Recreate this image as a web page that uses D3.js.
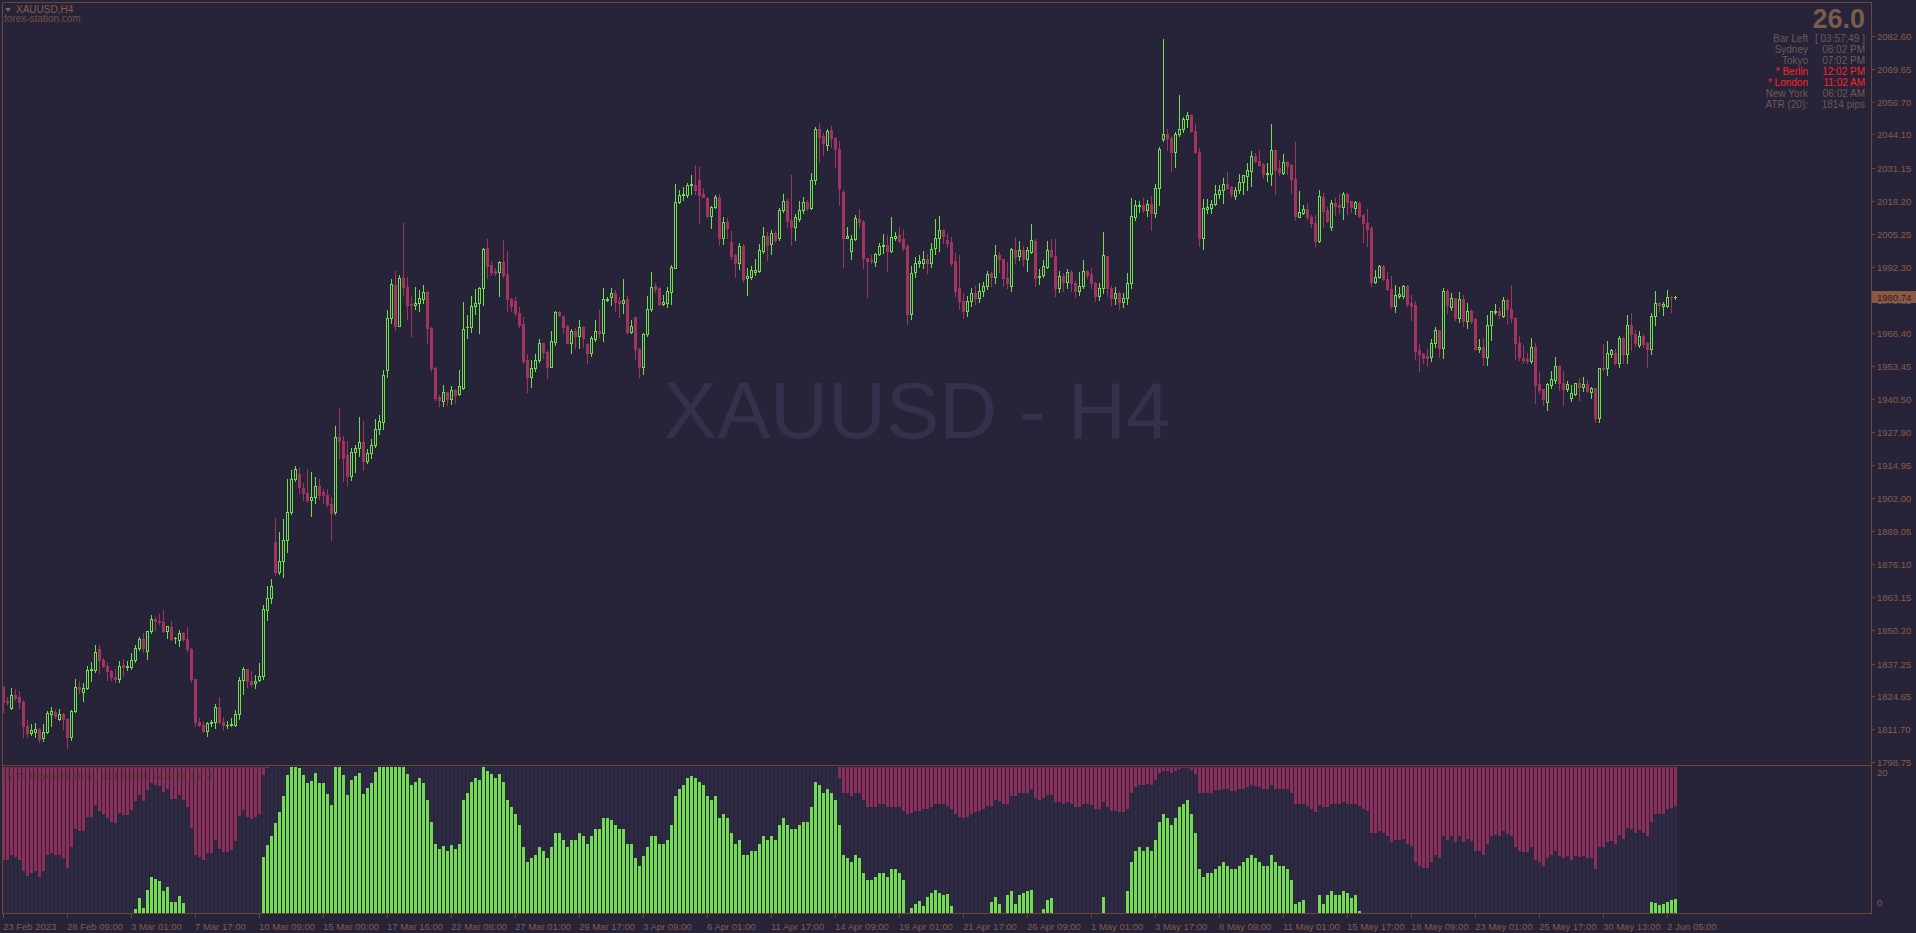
<!DOCTYPE html>
<html>
<head>
<meta charset="utf-8">
<script src="https://cdn.jsdelivr.net/npm/d3@7"></script>
<style>
html, body { margin: 0; padding: 0; background: #272338; overflow: hidden; }
svg { display: block; }
text { font-family: "Liberation Sans", Arial, sans-serif; }
</style>
</head>
<body>
<div id="chart"></div>
<script>
// XAUUSD H4 candles, one entry per bar (bar 0 = 23 Feb 2023)
const opens = [
1828.2,1822.7,1819.7,1824.9,1824.0,1822.1,1812.8,1810.1,1810.3,1811.7,
1808.0,1810.3,1817.6,1818.3,1815.5,1817.6,1815.5,1808.7,1818.6,1828.2,
1826.2,1827.6,1834.6,1834.8,1843.0,1838.6,1836.4,1834.3,1832.0,1831.3,
1836.7,1835.7,1835.7,1838.6,1843.2,1846.8,1842.1,1849.8,1854.5,1854.0,
1853.4,1849.8,1851.5,1847.1,1846.4,1849.1,1846.8,1843.0,1831.3,1814.4,
1813.2,1810.7,1814.0,1814.2,1820.3,1814.4,1813.2,1813.1,1813.1,1817.6,
1831.0,1835.0,1830.6,1829.5,1830.9,1832.5,1858.1,1862.7,1884.7,1873.1,
1877.5,1885.7,1896.5,1909.5,1911.5,1905.8,1903.9,1901.1,1902.2,1906.6,
1904.4,1903.3,1899.7,1896.4,1925.9,1924.1,1918.7,1910.7,1919.8,1921.7,
1923.9,1916.3,1919.5,1922.5,1929.1,1931.8,1952.0,1972.5,1985.3,1969.4,
1988.0,1984.6,1977.9,1977.3,1978.4,1979.8,1982.4,1968.6,1952.7,1941.6,
1940.0,1943.5,1940.5,1944.2,1942.6,1944.9,1968.8,1968.8,1977.1,1978.1,
1984.0,1999.6,1993.1,1990.7,1990.2,1994.1,1989.6,1979.7,1979.0,1974.2,
1970.0,1955.9,1949.4,1952.9,1956.0,1962.5,1959.2,1953.3,1962.9,1974.8,
1973.1,1969.2,1962.7,1967.3,1965.3,1968.7,1962.2,1958.8,1964.1,1967.4,
1966.4,1979.4,1980.4,1982.0,1979.0,1978.1,1979.6,1967.0,1972.6,1960.1,
1953.3,1966.0,1975.8,1984.9,1983.9,1977.8,1978.4,1982.6,1992.0,2017.8,
2020.3,2020.6,2024.4,2024.4,2026.3,2020.8,2019.1,2012.2,2015.6,2019.1,
2003.5,2009.8,2001.9,1997.0,1994.0,2000.6,1987.9,1988.5,1990.3,1990.8,
1998.7,2004.4,2001.2,2005.7,2003.5,2014.6,2018.2,2010.7,2007.8,2011.0,
2014.6,2017.8,2015.2,2026.3,2046.1,2043.5,2040.0,2045.9,2042.6,2038.3,
2021.5,2003.5,1998.7,2003.1,2010.9,2010.0,1995.7,1995.0,1994.4,1997.4,
2000.3,2000.9,1998.7,2003.5,2004.8,2003.1,2000.5,1974.0,1990.5,1993.7,
1993.7,1995.5,1994.0,1999.6,2003.5,2006.8,2002.8,2002.0,1994.6,1984.0,
1979.0,1975.0,1979.0,1982.0,1980.0,1983.0,1985.0,1989.8,1988.5,1997.0,
1995.3,1987.9,1985.0,1998.9,1996.6,1998.9,1995.3,1998.3,2002.4,1988.4,
1989.2,1992.4,1998.9,1996.6,1984.0,1988.9,1986.5,1990.3,1986.2,1983.0,
1985.0,1990.7,1989.4,1986.0,1981.0,1984.0,1996.4,1984.0,1980.0,1982.0,
1978.5,1980.0,1986.0,2012.0,2016.1,2016.5,2014.6,2016.9,2013.3,2023.0,
2042.3,2044.1,2042.6,2037.4,2044.1,2046.1,2050.0,2051.7,2045.6,2037.4,
2003.5,2014.8,2015.2,2016.9,2020.7,2022.4,2024.7,2023.4,2020.0,2022.4,
2025.6,2027.9,2029.9,2035.7,2033.7,2032.5,2028.5,2028.6,2038.0,2030.8,
2028.9,2033.2,2032.2,2026.6,2012.0,2013.5,2014.8,2011.7,2009.4,2002.6,
2019.5,2014.6,2008.1,2017.4,2016.5,2015.9,2020.8,2018.1,2015.2,2017.2,
2012.6,2009.4,2007.7,1986.6,1988.2,1992.7,1987.6,1983.7,1977.2,1981.0,
1981.1,1984.9,1978.1,1977.4,1959.8,1958.3,1957.5,1957.0,1962.4,1967.7,
1960.8,1982.9,1976.8,1980.0,1972.5,1979.8,1971.3,1975.1,1971.8,1960.1,
1961.1,1957.0,1969.6,1974.6,1975.1,1973.3,1979.4,1975.7,1972.2,1962.4,
1956.6,1956.2,1955.7,1960.9,1946.5,1944.5,1939.6,1946.2,1948.1,1953.6,
1946.8,1944.5,1940.9,1942.6,1946.8,1945.5,1946.4,1943.5,1944.9,1933.1,
1952.7,1952.7,1958.3,1958.5,1954.6,1964.4,1958.3,1969.6,1966.1,1961.8,
1965.4,1962.4,1960.1,1973.1,1978.1,1977.2,1977.2,1980.7,1980.5
];
const highs = [
1828.5,1824.0,1827.6,1827.2,1826.5,1823.1,1815.2,1813.5,1814.0,1812.1,
1813.5,1818.5,1820.4,1819.0,1819.4,1817.8,1815.8,1819.0,1831.2,1830.6,
1829.5,1836.4,1837.8,1844.3,1844.3,1839.5,1838.0,1834.7,1835.0,1838.1,
1838.9,1838.1,1841.3,1844.3,1847.8,1849.1,1850.1,1856.3,1855.3,1856.7,
1858.3,1852.0,1853.9,1847.8,1850.5,1849.5,1851.5,1843.3,1831.3,1815.8,
1814.2,1814.2,1815.2,1821.3,1824.0,1816.2,1814.9,1815.8,1819.0,1832.0,
1835.7,1835.0,1834.5,1832.7,1837.5,1860.1,1867.7,1870.4,1894.0,1888.5,
1893.7,1909.5,1912.9,1914.5,1913.6,1907.7,1913.2,1912.2,1910.2,1909.5,
1905.4,1905.4,1902.2,1930.0,1937.3,1926.3,1924.1,1921.4,1922.5,1933.5,
1932.1,1921.1,1925.2,1932.8,1934.6,1952.0,1975.3,1987.5,1990.8,1989.0,
2009.4,1988.3,1980.9,1984.5,1983.1,1985.3,1983.0,1969.0,1953.3,1942.2,
1946.2,1943.6,1945.8,1944.5,1952.0,1978.7,1973.5,1981.0,1983.6,1984.6,
1999.9,2003.1,1994.8,1991.8,1994.8,2002.9,1998.5,1980.0,1980.4,1976.8,
1972.6,1958.3,1956.0,1958.3,1964.0,1962.5,1959.9,1967.3,1975.2,1975.2,
1973.1,1969.6,1967.9,1968.6,1971.6,1969.2,1962.7,1965.3,1971.6,1975.5,
1983.9,1980.7,1983.9,1983.3,1980.7,1987.6,1980.9,1971.6,1972.9,1960.5,
1966.4,1981.0,1990.2,1985.9,1984.3,1981.4,1984.3,1993.1,2024.7,2022.4,
2023.4,2025.0,2028.3,2032.2,2031.3,2023.0,2019.5,2016.1,2020.4,2020.8,
2011.7,2011.3,2006.5,1997.4,2001.5,2001.3,1991.8,1992.7,1995.3,2001.3,
2007.8,2006.1,2006.8,2006.4,2015.2,2020.8,2018.7,2028.3,2013.0,2018.2,
2019.5,2018.5,2029.2,2047.2,2048.5,2044.5,2046.1,2047.4,2043.0,2041.7,
2022.4,2007.8,2004.8,2012.6,2014.8,2010.7,1995.7,1997.0,1997.7,2001.8,
2005.2,2004.8,2012.0,2006.1,2008.1,2006.8,2001.3,1992.7,1996.3,1997.0,
1998.6,1997.4,2001.6,2010.9,2012.2,2007.0,2005.4,2003.9,1997.6,1997.0,
1982.0,1981.0,1984.0,1985.0,1986.0,1986.5,1990.8,1990.4,2000.9,1998.3,
1995.3,1994.4,1999.6,2004.0,2002.6,2000.5,2000.0,2009.1,2003.1,1991.4,
1995.0,2002.6,2003.2,2003.1,1990.8,1990.0,1991.4,1991.1,1986.8,1990.4,
1995.0,1991.1,1991.8,1986.5,1986.0,2006.1,1996.4,1985.0,1984.5,1983.0,
1982.0,1989.8,2019.1,2018.5,2018.2,2019.1,2018.5,2020.0,2024.7,2039.3,
2081.4,2046.2,2043.5,2045.2,2059.5,2050.8,2053.0,2052.1,2048.2,2039.0,
2018.7,2018.7,2018.5,2024.3,2024.3,2026.9,2029.6,2023.9,2023.7,2028.6,
2028.3,2032.8,2037.8,2037.0,2038.0,2033.1,2032.8,2048.2,2038.0,2034.1,
2036.5,2033.9,2032.6,2041.2,2022.0,2016.5,2017.4,2012.6,2012.6,2022.4,
2021.4,2015.6,2018.5,2019.1,2020.8,2021.7,2021.1,2018.2,2018.1,2018.1,
2013.0,2014.8,2008.3,1991.1,1993.1,1993.1,1990.5,1988.8,1985.2,1984.6,
1985.4,1985.4,1981.3,1979.0,1962.2,1958.8,1960.1,1964.0,1968.7,1967.7,
1983.9,1983.6,1982.0,1980.0,1982.4,1981.3,1978.3,1975.7,1972.2,1964.1,
1964.4,1973.5,1975.1,1977.8,1976.8,1980.7,1979.7,1985.2,1972.9,1965.3,
1961.8,1958.8,1964.4,1962.7,1951.4,1944.5,1946.8,1951.8,1957.0,1954.0,
1951.8,1947.9,1946.2,1947.1,1948.8,1949.4,1948.1,1945.3,1944.9,1952.7,
1962.2,1963.4,1960.1,1960.1,1965.3,1965.0,1973.5,1974.4,1967.7,1967.4,
1966.1,1963.1,1974.2,1982.9,1978.7,1978.5,1983.3,1981.1,1981.1
];
const lows = [
1818.3,1821.5,1819.5,1823.0,1819.7,1808.7,1808.7,1809.4,1808.4,1806.5,
1806.9,1810.1,1812.8,1815.8,1815.2,1811.7,1804.3,1807.3,1818.3,1825.8,
1822.7,1827.2,1830.4,1834.1,1833.4,1835.8,1830.9,1830.9,1830.0,1830.0,
1832.3,1834.8,1835.0,1837.8,1842.7,1841.6,1838.9,1849.1,1850.5,1852.6,
1849.5,1847.1,1846.3,1845.4,1844.0,1846.0,1842.3,1830.0,1812.8,1812.8,
1810.3,1809.0,1812.8,1812.1,1813.9,1811.4,1812.1,1812.8,1812.8,1815.5,
1825.4,1827.9,1828.6,1827.6,1830.6,1831.3,1854.2,1860.8,1872.0,1872.1,
1871.1,1880.7,1895.8,1908.8,1904.0,1901.2,1900.3,1895.1,1899.9,1901.7,
1899.9,1898.9,1885.5,1895.8,1917.7,1908.8,1907.1,1909.1,1912.2,1918.4,
1912.9,1915.6,1917.7,1921.8,1926.9,1929.1,1949.2,1970.2,1967.8,1969.1,
1981.5,1972.1,1965.3,1976.0,1974.9,1978.1,1962.7,1951.8,1940.3,1938.0,
1938.0,1938.5,1938.8,1939.0,1942.2,1944.5,1964.4,1967.0,1974.0,1966.4,
1977.4,1987.9,1989.2,1989.2,1981.0,1988.5,1975.2,1975.2,1973.5,1969.0,
1954.6,1943.5,1945.5,1951.8,1955.3,1956.6,1948.8,1953.0,1961.8,1973.1,
1966.6,1962.5,1958.5,1960.5,1960.5,1961.0,1954.9,1957.5,1963.5,1964.8,
1963.5,1979.1,1977.4,1975.2,1972.9,1974.4,1966.6,1966.6,1956.2,1949.4,
1950.5,1965.3,1975.2,1982.7,1977.4,1977.4,1976.5,1977.8,1991.8,2017.4,
2018.5,2019.8,2020.8,2020.8,2009.6,2019.5,2011.7,2007.7,2015.2,2000.9,
2001.3,2003.5,1995.3,1988.5,1991.4,1986.6,1981.4,1987.5,1989.2,1990.5,
1997.9,1995.0,1997.4,2002.2,2002.9,2013.9,2007.8,2000.9,2002.9,2010.4,
2013.5,2014.6,2014.8,2024.7,2033.5,2036.1,2038.0,2039.3,2031.5,2016.5,
1992.2,2003.5,1995.3,2002.9,2008.0,1991.8,1980.7,1993.7,1992.7,1997.0,
1997.9,1990.9,1998.3,2002.9,2002.2,1998.9,1970.0,1972.0,1988.3,1992.4,
1991.8,1990.1,1992.1,1997.4,1998.7,2001.8,2000.2,1993.1,1981.0,1976.0,
1972.5,1973.0,1977.0,1978.0,1978.5,1981.0,1983.5,1985.0,1986.0,1990.4,
1985.0,1984.0,1983.0,1993.7,1995.0,1992.7,1990.8,1997.6,1985.0,1985.5,
1988.5,1991.8,1996.0,1981.0,1982.5,1983.0,1984.0,1983.0,1980.5,1981.5,
1984.0,1987.8,1984.0,1979.0,1979.5,1982.0,1981.0,1977.5,1978.0,1976.0,
1976.5,1978.0,1984.0,2010.7,2013.9,2013.9,2012.2,2006.8,2011.7,2016.5,
2041.7,2038.0,2030.0,2031.5,2043.5,2045.2,2046.9,2045.2,2037.0,2000.5,
1999.2,2013.3,2013.5,2016.5,2019.1,2017.4,2022.6,2019.5,2018.7,2021.4,
2020.8,2022.4,2024.0,2033.5,2031.8,2027.0,2026.0,2024.3,2020.8,2028.3,
2028.6,2028.6,2021.4,2010.6,2011.7,2013.0,2010.9,2007.8,2000.5,2002.2,
2008.1,2010.0,2006.8,2012.6,2013.5,2010.9,2013.0,2013.9,2013.0,2012.0,
2002.2,2000.5,1984.9,1986.2,1987.9,1987.2,1983.3,1976.1,1974.8,1980.0,
1980.0,1977.0,1971.6,1956.3,1951.8,1954.9,1953.6,1955.7,1961.1,1957.2,
1956.9,1974.2,1975.5,1971.6,1970.9,1969.4,1968.6,1970.5,1959.8,1959.2,
1954.0,1954.0,1963.8,1973.9,1972.2,1972.9,1970.5,1970.9,1956.2,1955.9,
1954.6,1954.6,1954.6,1939.0,1943.2,1938.3,1936.4,1944.9,1946.8,1944.2,
1938.3,1943.9,1940.0,1942.2,1940.3,1943.9,1943.5,1940.9,1931.8,1931.8,
1952.0,1950.1,1957.2,1954.4,1953.3,1954.6,1954.6,1959.8,1961.4,1961.1,
1961.1,1953.1,1958.3,1969.6,1975.2,1973.5,1976.5,1974.8,1979.8
];
const closes = [
1822.4,1822.1,1824.9,1823.8,1822.1,1812.8,1810.1,1811.2,1811.5,1807.9,
1810.3,1817.9,1818.6,1816.9,1817.6,1815.5,1808.7,1818.6,1828.2,1827.2,
1827.6,1834.8,1835.0,1841.9,1838.6,1836.4,1834.3,1832.0,1831.3,1836.4,
1835.7,1836.1,1838.6,1843.2,1846.8,1843.2,1849.8,1854.6,1854.0,1853.3,
1849.8,1851.9,1846.8,1847.2,1849.1,1846.8,1843.0,1831.3,1814.2,1813.2,
1810.7,1813.9,1814.4,1820.3,1814.2,1813.2,1813.3,1813.5,1817.6,1831.0,
1835.1,1830.6,1829.3,1830.6,1832.5,1858.5,1862.7,1867.5,1873.1,1877.5,
1885.7,1896.5,1909.5,1913.4,1906.1,1903.9,1901.1,1902.2,1906.6,1903.3,
1903.3,1899.7,1896.0,1925.9,1924.1,1917.7,1910.7,1919.8,1921.4,1923.7,
1916.3,1919.5,1922.5,1929.1,1932.1,1950.2,1972.5,1985.8,1969.4,1988.0,
1984.6,1977.6,1977.3,1978.4,1980.1,1982.4,1968.6,1952.7,1941.2,1940.3,
1943.5,1940.5,1944.2,1942.3,1945.8,1967.9,1969.0,1977.1,1978.1,1984.2,
1999.3,1992.8,1990.5,1989.8,1994.1,1989.2,1979.7,1977.2,1974.2,1969.6,
1955.7,1949.2,1952.9,1956.0,1962.5,1959.2,1953.3,1963.4,1974.8,1973.5,
1969.0,1962.7,1967.3,1965.3,1968.7,1964.4,1958.8,1964.7,1967.4,1966.4,
1979.7,1979.8,1982.0,1978.7,1978.1,1979.4,1967.0,1969.2,1960.1,1953.3,
1966.0,1975.8,1984.6,1983.7,1977.8,1978.6,1982.9,1992.4,2017.8,2020.4,
2020.8,2024.4,2024.9,2022.4,2020.4,2019.8,2012.2,2015.6,2019.8,2003.5,
2009.8,2007.4,1996.7,1994.0,2000.6,1987.6,1988.8,1991.1,1991.0,1998.9,
2004.4,2000.9,2005.7,2002.9,2014.6,2018.2,2010.4,2007.8,2011.7,2014.6,
2017.8,2015.2,2026.3,2046.1,2043.2,2040.6,2045.6,2042.6,2038.3,2023.1,
2003.5,2004.4,2003.1,2011.3,2010.0,1995.7,1994.8,1994.8,1997.4,2000.6,
2000.9,1998.7,2003.9,2004.4,2002.6,1999.9,1974.0,1990.0,1993.7,1994.8,
1995.3,1994.0,1999.2,2003.5,2006.8,2004.4,2001.8,1994.0,1983.0,1979.0,
1975.0,1979.0,1982.0,1980.0,1983.0,1985.0,1989.4,1988.2,1997.0,1995.3,
1987.9,1986.0,1999.2,1996.3,1998.9,1995.3,1998.9,2002.8,1987.9,1988.9,
1992.7,1998.9,1996.6,1984.0,1988.9,1986.5,1990.3,1986.2,1983.0,1985.0,
1990.7,1989.2,1986.0,1981.0,1984.0,1996.8,1984.0,1980.0,1982.0,1978.5,
1980.0,1986.0,2012.2,2016.5,2016.5,2014.6,2016.9,2013.5,2023.2,2038.6,
2044.1,2042.6,2037.4,2044.2,2046.1,2050.0,2051.7,2045.6,2037.4,2003.5,
2015.2,2015.6,2016.9,2020.8,2022.4,2024.7,2023.0,2020.8,2022.4,2025.6,
2028.3,2030.2,2035.7,2033.9,2032.2,2028.6,2028.9,2038.0,2030.2,2029.6,
2033.2,2031.8,2026.6,2012.2,2013.9,2014.8,2011.7,2009.4,2002.6,2020.0,
2014.3,2010.4,2017.2,2016.1,2015.9,2020.8,2017.8,2015.6,2017.6,2012.4,
2009.4,2007.3,1986.6,1988.5,1992.7,1987.6,1983.7,1977.2,1981.4,1981.7,
1984.9,1977.8,1977.2,1959.6,1958.3,1956.9,1956.9,1962.7,1967.7,1960.8,
1982.9,1977.4,1980.0,1972.2,1979.8,1971.3,1975.1,1971.3,1960.1,1961.1,
1957.0,1969.6,1975.1,1975.1,1973.5,1979.4,1975.7,1972.2,1962.4,1957.2,
1955.9,1955.5,1960.9,1946.2,1944.2,1940.6,1946.4,1948.4,1953.6,1946.8,
1944.5,1946.5,1942.9,1946.8,1945.5,1946.4,1943.9,1944.9,1933.1,1952.7,
1952.3,1958.5,1959.8,1954.6,1964.4,1958.3,1969.6,1966.1,1962.7,1965.4,
1962.2,1960.1,1973.1,1978.1,1977.4,1977.8,1980.4,1980.4,1980.74
];

// sub-window histogram (0..20): green rises from the bottom, red hangs from the top
const bullPower = [
0,0,0,0,0,0,0,0,0,0, 0,0,0,0,0,0,0,0,0,0,
0,0,0,0,0,0,0,0,0,0, 0,0,0,0.55,2.1,0.7,3.2,5.0,4.6,4.4,
3.0,3.6,1.5,1.5,2.3,1.4,0,0,0,0, 0,0,0,0,0,0,0,0,0,0,
0,0,0,0,0,7.7,9.3,10.6,12.3,13.8, 16.0,18.9,20,20,19.8,18.9,17.8,18.1,19.2,17.8,
17.8,16.3,14.8,20,20,18.9,16.2,18.2,18.7,19.2, 16.3,17.1,17.8,19.3,20,20,20,20,20,20,
20,19,17.5,18,18.5,17.8,15.5,12.5,9.5,8.8, 9.2,8.5,9.3,8.7,9.5,15.5,16.5,18,18.5,18.2,
20,19.5,19,18.5,19,18,15.5,14.5,13.5,12, 9,7,7.5,8,9,8.5,7.5,9,11,11,
10,9,10,10,11,10.5,9.5,10.5,11.5,11.5, 13,13,12.8,12,11.5,11.5,9.5,9.5,7.5,6.5,
7.8,9,10.5,10.5,9.5,9.5,10,12,16,17, 17.5,18.5,18.8,18.5,18,17.5,16,15.5,16,13,
13.5,13,11,9.5,10,8,8,8.5,8.5,9.5, 10.5,10,10.5,10,12,13,12,11.5,11.5,12,
12.5,12.5,14.5,18,17.5,16.5,17,16.5,15.5,12, 8,7.5,7,8,7.5,5.5,4.5,4.5,5,5.5,
5.5,5,6,6,5.5,4.5,0,0.7,1.2,1.6, 1.0,2.2,2.8,3.2,2.8,2.4,2.6,1.0,0,0,
0,0,0,0,0,0,0,1.5,2.2,1.2, 0,2.5,3,1.2,2.5,2.8,3,3.2,0,0,
0.6,1.8,2.0,0,0,0,0,0,0,0, 0,0,0,0,0,2.2,0,0,0,0,
0,3,7,8.5,9,8.5,9,8.5,10,12.5, 13.5,13,12,13,14.5,15,15.5,13.5,11,6,
5,5.5,5.5,6,6.5,7,6.5,6,6,6.5, 7,7.5,8,7.5,7,6.5,6.5,8,7,6.5,
6.5,6,4.5,1.2,1.5,1.8,0,0,0,2.5, 1.2,2.5,3,2.5,2.5,3,2.8,2,2.5,0.3,
0,0,0,0,0,0,0,0,0,0, 0,0,0,0,0,0,0,0,0,0,
0,0,0,0,0,0,0,0,0,0, 0,0,0,0,0,0,0,0,0,0,
0,0,0,0,0,0,0,0,0,0, 0,0,0,0,0,0,0,0,0,0,
0,0,0,0,0,0,0,0,0,0, 0,0,1.5,1.4,1.1,1.2,1.5,1.8,1.9
];
const bearPower = [
12.8,12.8,12.1,12.3,12.7,14.3,14.9,14.5,14.3,15.0, 14.2,12.1,11.8,12.1,12.0,12.4,13.8,11.0,8.5,8.8,
8.7,6.9,6.9,5.2,6.0,6.4,7.0,7.6,7.7,6.3, 6.6,6.6,5.9,4.7,3.8,4.7,3.1,2.2,2.4,2.6,
3.4,3.0,4.4,4.4,3.8,4.5,5.5,8.4,12.0,12.3, 12.7,11.8,11.8,10.0,11.3,11.6,11.6,11.4,10.2,6.7,
5.9,6.9,7.1,6.9,6.4,1.1,0.2,0,0,0, 0,0,0,0,0,0,0,0,0,0,
0,0,0,0,0,0,0,0,0,0, 0,0,0,0,0,0,0,0,0,0,
0,0,0,0,0,0,0,0,0,0, 0,0,0,0,0,0,0,0,0,0,
0,0,0,0,0,0,0,0,0,0, 0,0,0,0,0,0,0,0,0,0,
0,0,0,0,0,0,0,0,0,0, 0,0,0,0,0,0,0,0,0,0,
0,0,0,0,0,0,0,0,0,0, 0,0,0,0,0,0,0,0,0,0,
0,0,0,0,0,0,0,0,0,0, 0,0,0,0,0,0,0,0,0,0,
0,0,0,0,0,0,0,0,0,1.5, 3.5,3.5,4,3.5,3.5,4.5,5.5,5.5,5.5,5,
5,5.5,5.5,5.5,5.5,6,6.5,6.3,6,6, 5.8,5.8,5.5,5,5,5,5.3,5.8,6.5,6.8,
7,6.8,6.5,6.2,6,5.8,5.3,5.3,4.5,4.6, 5,5,4,4,3.6,3.5,3.5,3,4.3,4.5,
4.2,3.8,3.8,4.8,4.8,5,4.8,5,5.5,5.5, 5,5,5.2,5.8,5.8,4.8,5.5,6,6,6.2,
6.2,5.8,3.5,2.8,2.5,2.5,2.3,2.5,1.8,0.8, 0.5,0.5,0.8,0.6,0.3,0.2,0.2,0.4,1,3.5,
3.5,3.5,3.5,3.2,3.2,3,3,3.3,3.3,3, 3,2.8,2.5,2.6,2.8,3,3,2.5,3,3,
3,3,3.5,5,5,5,5.3,5.8,6.2,5.2, 5.5,5.5,5,5,5,4.8,5,5,5,5.3,
5.8,6,9,9,8.8,9,9.5,10.3,10,10, 9.8,10.5,10.8,13,13.5,13.8,13.8,13,12,12.5,
9.5,10,9.5,10.3,9.5,10.3,9.8,10.2,11.5,11.5, 12,10.5,9.5,9.3,9.5,8.8,9.2,9.5,11,11.5,
11.6,11.6,11,12.8,13,13.5,12.5,12,11.5,12.2, 12.5,12.2,12.8,12.2,12.3,12.2,12.5,12.4,14,11,
11,10.3,10.2,10.5,9.3,9.8,8.3,8.5,9,8.6, 9,9.4,7.5,6.5,6.5,6.4,5.8,5.6,5.4
];

// one time label every 16 bars
const timeLabels = ["23 Feb 2023","28 Feb 09:00","3 Mar 01:00","7 Mar 17:00","10 Mar 09:00",
  "15 Mar 00:00","17 Mar 16:00","22 Mar 08:00","27 Mar 01:00","29 Mar 17:00","3 Apr 09:00",
  "6 Apr 01:00","11 Apr 17:00","14 Apr 09:00","19 Apr 01:00","21 Apr 17:00","26 Apr 09:00",
  "1 May 01:00","3 May 17:00","8 May 09:00","11 May 01:00","15 May 17:00","18 May 09:00",
  "23 May 01:00","25 May 17:00","30 May 13:00","2 Jun 05:00"];
const priceTicks = [2082.60,2069.65,2056.70,2044.10,2031.15,2018.20,2005.25,1992.30,1979.35,
  1966.40,1953.45,1940.50,1927.90,1914.95,1902.00,1889.05,1876.10,1863.15,1850.20,1837.25,
  1824.65,1811.70,1798.75];
const lastPrice = 1980.74;

const infoRows = [
  ["Bar Left", "[ 03:57:49 ]", false],
  ["Sydney", "08:02 PM", false],
  ["Tokyo", "07:02 PM", false],
  ["* Berlin", "12:02 PM", true],
  ["* London", "11:02 AM", true],
  ["New York", "06:02 AM", false],
  ["ATR (20):", "1814 pips", false]
];

const width = 1916, height = 933;
const bg = "#272338";
const bullColor = "#6ee04f";
const bearColor = "#a2355f";
const indBull = "#74dc52";
const indBear = "#8e2e5a";
const colFill = "#2f2a43";
const frameColor = "#6c4738";
const textColor = "#8a5c48";

const axisX = 1871;
const mainTop = 3, mainBottom = 765;
const indTop = 767, indBottom = 913;

const svg = d3.select("#chart")
    .append("svg")
    .attr("width", width)
    .attr("height", height);

svg.append("rect").attr("width", width).attr("height", height).attr("fill", bg);

const defs = svg.append("defs");
defs.append("clipPath").attr("id", "mainClip")
    .append("rect").attr("x", 3).attr("y", mainTop).attr("width", axisX - 3).attr("height", mainBottom - mainTop);

// scales
const x = d3.scaleLinear().domain([0, 418]).range([3, 1675]);
const y = d3.scaleLinear().domain([1798.75, 2082.60]).range([762, 36]);
const yInd = d3.scaleLinear().domain([0, 20]).range([indBottom, indTop]);

const candles = closes.map((c, i) => ({ i, o: opens[i], h: highs[i], l: lows[i], c }));
const isBull = d => d.c >= d.o;

// watermark
svg.append("text")
    .attr("x", 917)
    .attr("y", 438)
    .attr("text-anchor", "middle")
    .attr("font-size", "80px")
    .attr("fill", "#35304b")
    .text("XAUUSD - H4");

// candles
const main = svg.append("g")
    .attr("clip-path", "url(#mainClip)")
    .attr("shape-rendering", "crispEdges");

main.selectAll("rect.wick")
    .data(candles)
    .join("rect")
    .attr("class", "wick")
    .attr("x", d => Math.round(x(d.i)))
    .attr("y", d => Math.round(y(d.h)))
    .attr("width", 1)
    .attr("height", d => Math.max(1, Math.round(y(d.l)) - Math.round(y(d.h)) + 1))
    .attr("fill", d => isBull(d) ? bullColor : bearColor);

const bodyTop = d => Math.round(y(Math.max(d.o, d.c)));
const bodyBot = d => Math.round(y(Math.min(d.o, d.c)));

main.selectAll("rect.bear")
    .data(candles.filter(d => !isBull(d)))
    .join("rect")
    .attr("class", "bear")
    .attr("x", d => Math.round(x(d.i)) - 1)
    .attr("y", bodyTop)
    .attr("width", 3)
    .attr("height", d => Math.max(1, bodyBot(d) - bodyTop(d) + 1))
    .attr("fill", bearColor);

// hollow bull bodies
main.selectAll("rect.bull")
    .data(candles.filter(d => isBull(d) && bodyBot(d) - bodyTop(d) >= 2))
    .join("rect")
    .attr("class", "bull")
    .attr("x", d => Math.round(x(d.i)) - 0.5)
    .attr("y", d => bodyTop(d) + 0.5)
    .attr("width", 2)
    .attr("height", d => bodyBot(d) - bodyTop(d))
    .attr("fill", bg)
    .attr("stroke", bullColor)
    .attr("stroke-width", 1);

main.selectAll("rect.bullflat")
    .data(candles.filter(d => isBull(d) && bodyBot(d) - bodyTop(d) < 2))
    .join("rect")
    .attr("class", "bullflat")
    .attr("x", d => Math.round(x(d.i)) - 1)
    .attr("y", bodyTop)
    .attr("width", 3)
    .attr("height", d => bodyBot(d) - bodyTop(d) + 1)
    .attr("fill", bullColor);

// sub-window histogram
const ind = svg.append("g").attr("shape-rendering", "crispEdges");

ind.selectAll("rect.col")
    .data(candles)
    .join("rect")
    .attr("class", "col")
    .attr("x", d => Math.round(x(d.i)) - 1)
    .attr("y", indTop)
    .attr("width", 3)
    .attr("height", indBottom - indTop)
    .attr("fill", colFill);

ind.selectAll("rect.bearbar")
    .data(candles.filter(d => bearPower[d.i] > 0))
    .join("rect")
    .attr("class", "bearbar")
    .attr("x", d => Math.round(x(d.i)) - 1)
    .attr("y", indTop)
    .attr("width", 3)
    .attr("height", d => Math.max(1, Math.round(yInd(20 - bearPower[d.i])) - indTop))
    .attr("fill", indBear);

ind.selectAll("rect.bullbar")
    .data(candles.filter(d => bullPower[d.i] > 0))
    .join("rect")
    .attr("class", "bullbar")
    .attr("x", d => Math.round(x(d.i)) - 1)
    .attr("y", d => Math.round(yInd(bullPower[d.i])))
    .attr("width", 3)
    .attr("height", d => Math.max(1, indBottom - Math.round(yInd(bullPower[d.i]))))
    .attr("fill", indBull);

svg.append("text")
    .attr("x", 7)
    .attr("y", 779)
    .attr("font-size", "9.5px")
    .attr("fill", "#4e3530")
    .text("MTF DSpeed EMA(4) [20] 0.0000 19.5429 0.1 M");

// frame
const frame = svg.append("g")
    .attr("shape-rendering", "crispEdges")
    .attr("stroke", frameColor)
    .attr("stroke-width", 1);

frame.append("line").attr("x1", 2.5).attr("x2", 2.5).attr("y1", 2).attr("y2", indBottom + 1);
frame.append("line").attr("x1", 2).attr("x2", axisX + 1).attr("y1", 2.5).attr("y2", 2.5);
frame.append("line").attr("x1", axisX + 0.5).attr("x2", axisX + 0.5).attr("y1", 2).attr("y2", indBottom + 1);
frame.append("line").attr("x1", 2).attr("x2", axisX + 1).attr("y1", mainBottom + 0.5).attr("y2", mainBottom + 0.5);
frame.append("line").attr("x1", 2).attr("x2", axisX + 1).attr("y1", indBottom + 0.5).attr("y2", indBottom + 0.5);

// price axis
const yAxis = svg.append("g");
yAxis.selectAll("line")
    .data(priceTicks)
    .join("line")
    .attr("shape-rendering", "crispEdges")
    .attr("x1", axisX + 1).attr("x2", axisX + 4)
    .attr("y1", d => Math.round(y(d)) + 0.5)
    .attr("y2", d => Math.round(y(d)) + 0.5)
    .attr("stroke", frameColor);

yAxis.selectAll("text")
    .data(priceTicks)
    .join("text")
    .attr("x", axisX + 6)
    .attr("y", d => Math.round(y(d)) + 4)
    .attr("font-size", "9.5px")
    .attr("fill", textColor)
    .text(d => d.toFixed(2));

// current price box
svg.append("rect")
    .attr("x", axisX + 1)
    .attr("y", Math.round(y(lastPrice)) - 6)
    .attr("width", width - axisX - 1)
    .attr("height", 12)
    .attr("fill", "#8a5843");
svg.append("text")
    .attr("x", axisX + 6)
    .attr("y", Math.round(y(lastPrice)) + 4)
    .attr("font-size", "9.5px")
    .attr("fill", "#2b2233")
    .text(lastPrice.toFixed(2));

// sub-window scale
[[20, indTop + 9], [0, indBottom - 7]].forEach(([v, ty]) => {
    svg.append("text")
        .attr("x", axisX + 6)
        .attr("y", ty)
        .attr("font-size", "9.5px")
        .attr("fill", textColor)
        .text(v);
});

// time axis
const xAxis = svg.append("g");
xAxis.selectAll("line")
    .data(timeLabels)
    .join("line")
    .attr("shape-rendering", "crispEdges")
    .attr("x1", (d, k) => Math.round(x(k * 16)) + 0.5)
    .attr("x2", (d, k) => Math.round(x(k * 16)) + 0.5)
    .attr("y1", indBottom + 1)
    .attr("y2", indBottom + 5)
    .attr("stroke", frameColor);

xAxis.selectAll("text")
    .data(timeLabels)
    .join("text")
    .attr("x", (d, k) => Math.round(x(k * 16)))
    .attr("y", 930)
    .attr("font-size", "9.5px")
    .attr("fill", textColor)
    .text(d => d);

// chart title
svg.append("path")
    .attr("d", "M5,8 L11,8 L8,12 Z")
    .attr("fill", textColor);
svg.append("text")
    .attr("x", 16).attr("y", 13)
    .attr("font-size", "10px")
    .attr("fill", textColor)
    .text("XAUUSD,H4");
svg.append("text")
    .attr("x", 4).attr("y", 22)
    .attr("font-size", "10px")
    .attr("fill", "#74503f")
    .text("forex-station.com");

// info panel
svg.append("text")
    .attr("x", 1865).attr("y", 28)
    .attr("text-anchor", "end")
    .attr("font-size", "27px")
    .attr("font-weight", "bold")
    .attr("fill", "#7a5b4e")
    .text("26.0");

const info = svg.append("g").attr("font-size", "10px");
info.selectAll("text.lbl")
    .data(infoRows)
    .join("text")
    .attr("class", "lbl")
    .attr("x", 1808)
    .attr("y", (d, i) => 42 + i * 11)
    .attr("text-anchor", "end")
    .attr("fill", d => d[2] ? "#ff2424" : "#6f5a57")
    .text(d => d[0]);
info.selectAll("text.val")
    .data(infoRows)
    .join("text")
    .attr("class", "val")
    .attr("x", 1865)
    .attr("y", (d, i) => 42 + i * 11)
    .attr("text-anchor", "end")
    .attr("fill", d => d[2] ? "#ff2424" : "#6f5a57")
    .text(d => d[1]);
</script>
</body>
</html>
